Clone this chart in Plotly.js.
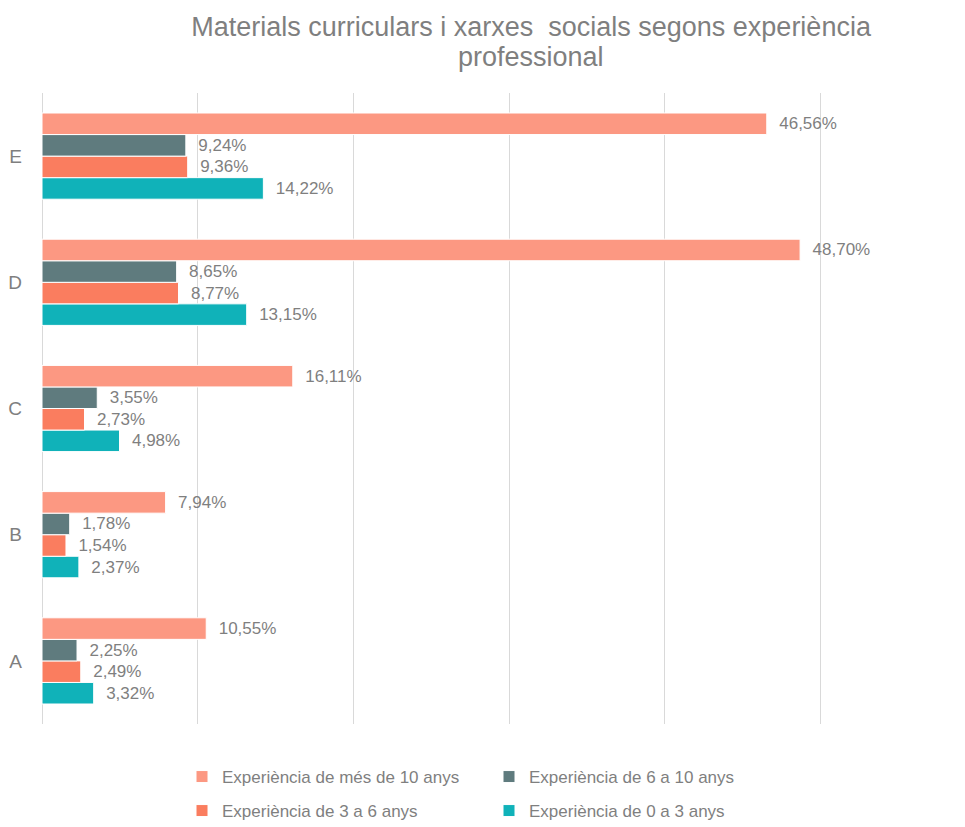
<!DOCTYPE html>
<html>
<head>
<meta charset="utf-8">
<script src="https://cdn.plot.ly/plotly-3.0.1.min.js"></script>
<style>html,body{margin:0;padding:0;background:#fff;}#chart{width:965px;height:827px;}</style>
</head>
<body>
<div id="chart"></div>
<script>
var categories = ['A', 'B', 'C', 'D', 'E'];
var seriesNames = ['Experiència de 0 a 3 anys', 'Experiència de 3 a 6 anys', 'Experiència de 6 a 10 anys', 'Experiència de més de 10 anys'];
var exp0to3 = [3.32, 2.37, 4.98, 13.15, 14.22];
var exp3to6 = [2.49, 1.54, 2.73, 8.77, 9.36];
var exp6to10 = [2.25, 1.78, 3.55, 8.65, 9.24];
var expMore10 = [10.55, 7.94, 16.11, 48.70, 46.56];
var colors = ['#10B2B9', '#FA7D5F', '#5F7B7E', '#FC9882'];
var legendOf = ['legend2', 'legend2', 'legend', 'legend'];
var titleLine1 = 'Materials curriculars i xarxes\u00a0 socials segons experiència';
var titleLine2 = 'professional';

var values = [exp0to3, exp3to6, exp6to10, expMore10];
var traces = values.map(function (v, i) {
  return {
    type: 'bar',
    orientation: 'h',
    name: seriesNames[i],
    legend: legendOf[i],
    y: categories,
    x: v,
    marker: {color: colors[i], line: {color: '#ffffff', width: 1}},
    texttemplate: '\u00a0\u00a0%{x:.2f}%',
    textposition: 'outside',
    cliponaxis: false,
    constraintext: 'none',
    textfont: {family: 'Liberation Sans, Arial, sans-serif', size: 17, color: '#7f7f7f'},
    hoverinfo: 'skip'
  };
});

var legendCommon = {
  orientation: 'h',
  traceorder: 'reversed',
  xref: 'container',
  yref: 'container',
  xanchor: 'left',
  yanchor: 'top',
  entrywidth: 262,
  entrywidthmode: 'pixels',
  font: {family: 'Liberation Sans, Arial, sans-serif', size: 17, color: '#7f7f7f'},
  bgcolor: 'rgba(0,0,0,0)',
  itemclick: false,
  itemdoubleclick: false
};

var layout = {
  width: 965,
  height: 827,
  separators: ',.',
  paper_bgcolor: '#ffffff',
  plot_bgcolor: '#ffffff',
  font: {family: 'Liberation Sans, Arial, sans-serif', color: '#7f7f7f'},
  margin: {l: 42, r: 140, t: 93, b: 103, autoexpand: false},
  barmode: 'group',
  bargap: 0.317,
  bargroupgap: 0,
  title: {
    text: titleLine1,
    font: {size: 27, color: '#7f7f7f'},
    x: 0.5503,
    xanchor: 'center',
    xref: 'container',
    y: 0.968,
    yanchor: 'middle',
    yref: 'container'
  },
  annotations: [{
    text: titleLine2,
    xref: 'paper',
    yref: 'paper',
    x: 0.6245,
    y: 1.057,
    xanchor: 'center',
    yanchor: 'middle',
    showarrow: false,
    font: {size: 27, color: '#7f7f7f'}
  }],
  xaxis: {
    range: [0, 50.3],
    tick0: 0,
    dtick: 10,
    showticklabels: false,
    showgrid: true,
    gridcolor: '#d9d9d9',
    gridwidth: 1,
    zeroline: true,
    zerolinecolor: '#d9d9d9',
    zerolinewidth: 1,
    showline: false,
    ticks: '',
    fixedrange: true
  },
  yaxis: {
    type: 'category',
    showgrid: false,
    zeroline: false,
    showline: false,
    ticks: '',
    ticklabelstandoff: 19,
    tickfont: {size: 19, color: '#7f7f7f'},
    fixedrange: true
  },
  showlegend: true,
  legend: Object.assign({}, legendCommon, {x: 182 / 965, y: 1 - 759 / 827}),
  legend2: Object.assign({}, legendCommon, {x: 182 / 965, y: 1 - 793 / 827})
};

Plotly.newPlot('chart', traces, layout, {displayModeBar: false, staticPlot: true});
</script>
</body>
</html>
